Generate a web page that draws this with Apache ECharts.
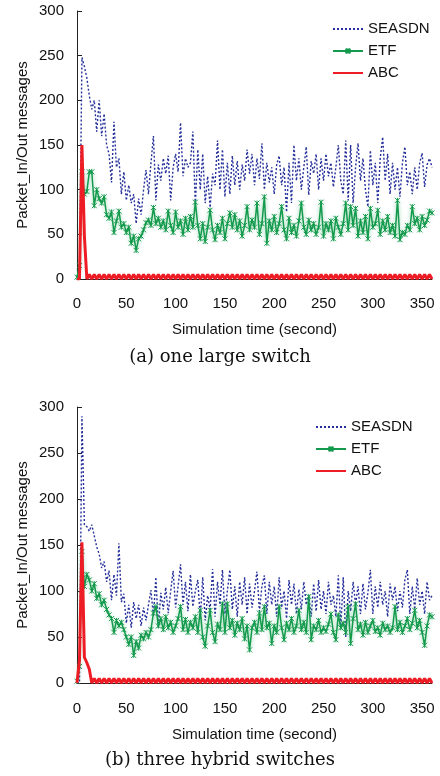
<!DOCTYPE html>
<html>
<head>
<meta charset="utf-8">
<script src="https://cdn.jsdelivr.net/npm/echarts@6/dist/echarts.min.js"></script>
<style>
html,body{margin:0;padding:0;background:#fff;}
#chart{width:440px;height:776px;}
</style>
</head>
<body>
<div id="chart"></div>
<script>
// Simulation time (seconds), sampled every 2.5 s
const timeSec = [0,2.5,5,7.5,10,12.5,15,17.5,20,22.5,25,27.5,30,32.5,35,37.5,40,42.5,45,47.5,
50,52.5,55,57.5,60,62.5,65,67.5,70,72.5,75,77.5,80,82.5,85,87.5,90,92.5,95,97.5,
100,102.5,105,107.5,110,112.5,115,117.5,120,122.5,125,127.5,130,132.5,135,137.5,140,142.5,145,147.5,
150,152.5,155,157.5,160,162.5,165,167.5,170,172.5,175,177.5,180,182.5,185,187.5,190,192.5,195,197.5,
200,202.5,205,207.5,210,212.5,215,217.5,220,222.5,225,227.5,230,232.5,235,237.5,240,242.5,245,247.5,
250,252.5,255,257.5,260,262.5,265,267.5,270,272.5,275,277.5,280,282.5,285,287.5,290,292.5,295,297.5,
300,302.5,305,307.5,310,312.5,315,317.5,320,322.5,325,327.5,330,332.5,335,337.5,340,342.5,345,347.5,
350,352.5,355,357.5,360];

// (a) one large switch
const seasdnA = [0,0,248,238, 225,205,190,200, 165,200,160,185, 150,140,108,176, 125,135,95,120,
88,105,85,95, 62,90,72,100, 122,95,130,160, 88,128,110,135, 118,138,88,125,
140,120,175,115, 135,125,130,165, 82,145,100,140, 85,115,80,118, 105,155,100,145,
92,130,95,138, 105,132,100,128, 110,145,118,140, 105,135,112,152, 100,130,108,125,
95,128,138,105, 125,75,130,85, 150,110,135,100, 125,148,94,132, 118,140,100,135,
110,140,115,130, 103,125,150,110, 95,155,88,150, 85,125,152,110, 135,100,81,144,
105,130,85,135, 159,110,140,95, 130,100,125,92, 130,148,105,120, 95,125,100,130,
141,103,128,135, 125];
const etfA = [2,15,120,95, 98,120,120,82, 100,90,85,92, 72,68,75,52, 65,76,58,62,
52,58,40,48, 32,45,48,55, 63,66,60,80, 62,68,58,65, 55,76,60,52,
75,58,65,50, 68,55,70,58, 86,60,45,62, 42,58,77,55, 44,60,52,68,
45,62,74,58, 72,55,65,48, 60,81,55,66, 58,85,50,62, 92,40,65,55,
70,52,62,81, 55,45,68,52, 60,48,65,85, 58,50,66,55, 62,50,58,86,
48,62,55,65, 45,68,58,50, 62,85,55,81, 60,79,48,65, 52,70,45,79,
58,62,77,50, 65,55,70,52, 60,48,88,44, 52,50,60,55, 81,62,68,55,
70,60,66,76, 74];
const abcA = [0,0,150,48, 0,5,0,5, 0,5,0,5, 0,5,0,5, 0,5,0,5,
0,5,0,5, 0,5,0,5, 0,5,0,5, 0,5,0,5, 0,5,0,5,
0,5,0,5, 0,5,0,5, 0,5,0,5, 0,5,0,5, 0,5,0,5,
0,5,0,5, 0,5,0,5, 0,5,0,5, 0,5,0,5, 0,5,0,5,
0,5,0,5, 0,5,0,5, 0,5,0,5, 0,5,0,5, 0,5,0,5,
0,5,0,5, 0,5,0,5, 0,5,0,5, 0,5,0,5, 0,5,0,5,
0,5,0,5, 0,5,0,5, 0,5,0,5, 0,5,0,5, 0,5,0,5,
0,5,0,5, 0];

// (b) three hybrid switches
const seasdnB = [0,0,290,172, 170,165,172,160, 148,140,125,132, 110,122,90,118, 95,152,88,97,
65,85,60,88, 70,85,62,82, 68,85,101,72, 115,60,98,80, 104,76,100,122,
82,105,129,85, 110,78,118,83, 100,112,70,115, 68,95,80,124, 72,110,85,123,
75,100,123,80, 105,72,110,85, 115,75,108,82, 100,121,78,105, 117,75,110,85,
105,72,115,82, 100,70,112,85, 108,75,102,80, 110,85,95,72, 108,78,112,80,
100,75,110,85, 95,72,117,60, 115,50,100,78, 110,85,105,75, 108,80,98,123,
75,105,82,110, 85,100,72,108, 90,105,78,100, 82,112,123,75, 105,80,114,85,
100,75,110,90, 95];
const etfB = [2,18,143,105, 118,112,100,108, 92,97,85,90, 80,74,70,55, 68,62,66,58,
50,42,50,30, 45,38,52,48, 55,50,58,76, 83,62,70,58, 72,60,66,55,
62,70,83,58, 69,55,66,60, 72,55,79,50, 40,62,79,55, 45,64,58,86,
55,86,60,68, 52,65,58,70, 48,62,36,60, 66,55,76,58, 83,60,65,43,
62,55,83,60, 47,65,58,70, 55,62,79,58, 66,55,94,47, 62,58,68,55,
60,56,64,75, 55,47,74,60, 65,55,83,43, 70,86,58,64, 52,66,55,62,
68,56,60,52, 65,58,62,55, 60,83,58,66, 55,62,70,58, 65,79,60,68,
55,41,62,74, 72];
const abcB = [0,25,153,28, 22,15,0,5, 0,5,0,5, 0,5,0,5, 0,5,0,5,
0,5,0,5, 0,5,0,5, 0,5,0,5, 0,5,0,5, 0,5,0,5,
0,5,0,5, 0,5,0,5, 0,5,0,5, 0,5,0,5, 0,5,0,5,
0,5,0,5, 0,5,0,5, 0,5,0,5, 0,5,0,5, 0,5,0,5,
0,5,0,5, 0,5,0,5, 0,5,0,5, 0,5,0,5, 0,5,0,5,
0,5,0,5, 0,5,0,5, 0,5,0,5, 0,5,0,5, 0,5,0,5,
0,5,0,5, 0,5,0,5, 0,5,0,5, 0,5,0,5, 0,5,0,5,
0,5,0,5, 0];

const seriesNames = ['SEASDN','ETF','ABC'];
const captions = ['(a) one large switch','(b) three hybrid switches'];
const xTitle = 'Simulation time (second)';
const yTitle = 'Packet_In/Out messages';

const pair = (vals) => timeSec.map((t,i) => [t, vals[i]]);

const FONT = 'Liberation Sans, Arial, sans-serif';
const C_SEA = '#25309a', C_ETF = '#139a4c', C_ABC = '#ee1c25';
const STAR = 'path://M0,0L10,10M10,0L0,10M5,0L5,10';

const grids = [
  {left:77, top:11, width:355, height:268},
  {left:77, top:407, width:355, height:276}
];

function xAxis(i, margin, gap){
  return {
    type:'value', gridIndex:i, min:0, max:360, interval:50,
    name:xTitle, nameLocation:'middle', nameGap:gap,
    nameTextStyle:{fontFamily:FONT, fontSize:15, color:'#111'},
    axisLine:{show:true, lineStyle:{color:'#222', width:1}},
    axisTick:{show:true, inside:true, length:3, lineStyle:{color:'#555'}},
    axisLabel:{fontFamily:FONT, fontSize:15, color:'#111', margin:margin, showMaxLabel:false},
    splitLine:{show:false}
  };
}
function yAxis(i){
  return {
    type:'value', gridIndex:i, min:0, max:300, interval:50,
    name:yTitle, nameLocation:'middle', nameGap:47, nameMoveOverlap:false,
    nameTextStyle:{fontFamily:FONT, fontSize:15, color:'#111'},
    axisLine:{show:true, lineStyle:{color:'#222', width:1}},
    axisTick:{show:true, inside:true, length:5, lineStyle:{color:'#222'}},
    axisLabel:{fontFamily:FONT, fontSize:15, color:'#111', margin:13},
    splitLine:{show:false}
  };
}
function mkSeries(i, sea, etf, abc){
  return [
    {name:'SEASDN', type:'line', xAxisIndex:i, yAxisIndex:i, data:pair(sea),
     symbol:'none', lineStyle:{color:C_SEA, width:1.4, type:[2,2]}, itemStyle:{color:C_SEA},
     animation:false, z:2},
    {name:'ETF', type:'line', xAxisIndex:i, yAxisIndex:i, data:pair(etf),
     symbol:STAR, symbolSize:5, showSymbol:true,
     lineStyle:{color:C_ETF, width:1.5, shadowColor:'rgba(60,180,110,0.55)', shadowBlur:4},
     itemStyle:{color:C_ETF, borderColor:C_ETF, borderWidth:1},
     animation:false, z:3},
    {name:'ABC', type:'line', xAxisIndex:i, yAxisIndex:i, data:pair(abc),
     symbol:'none', lineStyle:{color:C_ABC, width:3}, itemStyle:{color:C_ABC},
     animation:false, z:4}
  ];
}
function legend(left, top){
  return {
    orient:'vertical', left:left, top:top, itemWidth:30, itemHeight:6, itemGap:6,
    textStyle:{fontFamily:FONT, fontSize:15, color:'#111', lineHeight:16},
    data:[
      {name:'SEASDN', itemStyle:{opacity:0}},
      {name:'ETF'},
      {name:'ABC', itemStyle:{opacity:0}}
    ],
    selectedMode:false
  };
}

const chart = echarts.init(document.getElementById('chart'), null, {renderer:'canvas'});
chart.setOption({
  backgroundColor:'#fff',
  animation:false,
  title:[
    {text:captions[0], left:'center', top:343, textStyle:{fontFamily:'DejaVu Serif', fontSize:18, fontWeight:'normal', color:'#111'}},
    {text:captions[1], left:'center', top:746, textStyle:{fontFamily:'DejaVu Serif', fontSize:18, fontWeight:'normal', color:'#111'}}
  ],
  legend:[legend(327,16), legend(310,414)],
  grid:grids,
  xAxis:[xAxis(0,17,43), xAxis(1,18,44)],
  yAxis:[yAxis(0), yAxis(1)],
  series:[...mkSeries(0, seasdnA, etfA, abcA), ...mkSeries(1, seasdnB, etfB, abcB)]
});
</script>
</body>
</html>
